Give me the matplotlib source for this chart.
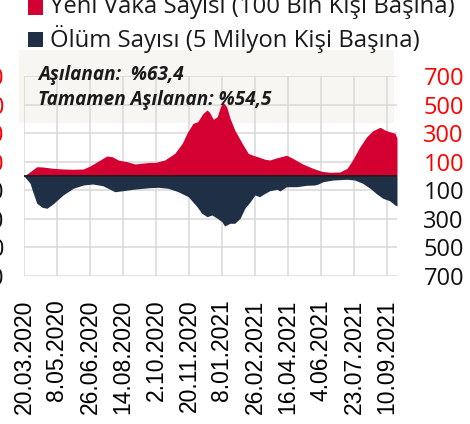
import numpy as np
import pandas as pd
from matplotlib import pyplot as plt
from matplotlib.patches import Rectangle

# tarih ekseni: 20.03.2020'den itibaren gün
start_date = '20.03.2020'
tick_labels = ['20.03.2020', '8.05.2020', '26.06.2020', '14.08.2020', '2.10.2020', '20.11.2020',
               '8.01.2021', '26.02.2021', '16.04.2021', '4.06.2021', '23.07.2021', '10.09.2021']

# yeni vaka sayısı (100 bin kişi başına)
case_days = [0, 9, 19, 28, 43, 58, 73, 88, 98, 113, 123, 131, 140, 153, 165, 175, 187, 195,
             209, 224, 235, 242, 251, 258, 266, 272, 276, 281, 287, 291, 295, 301, 306, 313,
             324, 333, 339, 347, 358, 365, 376, 390, 399, 414, 429, 442, 454, 469, 480, 488,
             499, 509, 518, 529, 536, 543, 551, 554]
case_vals = [0, 30, 65, 63, 54, 49, 47, 49, 70, 112, 140, 135, 112, 100, 84, 90, 95, 95,
             112, 159, 229, 299, 369, 380, 439, 462, 443, 397, 415, 474, 520, 485, 404, 322,
             229, 159, 147, 135, 117, 112, 128, 145, 124, 84, 54, 33, 26, 28, 54, 112,
             205, 275, 317, 341, 322, 310, 299, 264]

# ölüm sayısı (5 milyon kişi başına)
death_days = [0, 9, 13, 19, 27, 34, 43, 58, 73, 88, 102, 117, 135, 147, 162, 177, 187, 199,
              214, 229, 244, 257, 264, 272, 279, 287, 294, 298, 306, 313, 321, 328, 336, 343,
              350, 358, 365, 376, 380, 390, 405, 420, 432, 437, 444, 459, 480, 491, 503, 514,
              524, 533, 543, 551, 554]
death_vals = [0, 51, 110, 191, 219, 226, 196, 133, 86, 63, 56, 68, 110, 103, 93, 86, 82, 79,
              86, 110, 145, 215, 261, 285, 273, 296, 320, 350, 331, 331, 296, 226, 180, 133,
              145, 121, 103, 93, 105, 75, 75, 65, 63, 56, 40, 28, 23, 28, 51, 86,
              126, 156, 173, 203, 210]

y_ticks = [-700, -500, -300, -100, 100, 300, 500, 700]

red = '#d50032'
navy = '#1f3046'

t0 = pd.to_datetime(start_date, format='%d.%m.%Y')
tick_days = [(pd.to_datetime(s, format='%d.%m.%Y') - t0).days for s in tick_labels]

W, H = 470, 424
fig = plt.figure(figsize=(W / 100, H / 100), dpi=100)

# gri bilgi kutusu (verinin arkasında)
fig.patches.append(Rectangle((19 / W, 1 - 123 / H), 375 / W, 73 / H, transform=fig.transFigure,
                             facecolor='#f7f6f2', edgecolor='none', zorder=-5))

ax = fig.add_axes([24 / W, 1 - 276 / H, 373 / W, 200 / H])
ax.set_facecolor('none')
ax.set_xlim(0, 554)
ax.set_ylim(-700, 700)

ax.fill_between(case_days, 0, case_vals, color=red, lw=0, zorder=3)
ax.fill_between(death_days, 0, -np.array(death_vals), color=navy, lw=0, zorder=3)
ax.axhline(0, color='#1a1a1a', lw=1.3, zorder=4)

ax.set_xticks(tick_days)
ax.set_xticklabels(tick_labels, rotation=90, fontsize=16.5, family='Liberation Sans')
ax.set_yticks(y_ticks)
ax.set_yticklabels([str(abs(v)) for v in y_ticks], fontsize=17, family='Open Sans')
ax.tick_params(axis='x', length=0, pad=17)
ax.tick_params(axis='y', length=0, pad=14)
for lab, v in zip(ax.get_yticklabels(), y_ticks):
    lab.set_color('#ff0000' if v > 0 else '#111111')

ax2 = ax.twinx()
ax2.set_ylim(-700, 700)
ax2.set_yticks(y_ticks)
ax2.set_yticklabels([str(abs(v)) for v in y_ticks], fontsize=17, family='Open Sans')
ax2.tick_params(axis='y', length=0, pad=19)
for lab, v in zip(ax2.get_yticklabels(), y_ticks):
    lab.set_color('#ff0000' if v > 0 else '#111111')

ax.grid(True, color='#d8d8d8', lw=1.1)
ax.set_axisbelow(True)
for a in (ax, ax2):
    for s in a.spines.values():
        s.set_visible(False)

fig.text(38 / W, 1 - 75 / H, 'Aşılanan:  %63,4', fontsize=13.7, fontweight='bold', style='italic',
         family='Open Sans', va='center', color='#1a1a1a')
fig.text(38 / W, 1 - 100 / H, 'Tamamen Aşılanan: %54,5', fontsize=13.7, fontweight='bold', style='italic',
         family='Open Sans', va='center', color='#1a1a1a')

# lejant
legend_items = [('Yeni Vaka Sayısı (100 Bin Kişi Başına)', red), ('Ölüm Sayısı (5 Milyon Kişi Başına)', navy)]
for i, (txt, c) in enumerate(legend_items):
    yc = 7 + 32 * i
    fig.patches.append(Rectangle((28 / W, 1 - (yc + 7.5) / H), 15 / W, 15 / H, transform=fig.transFigure,
                                 facecolor=c, edgecolor='none'))
    fig.text(50 / W, 1 - yc / H, txt, fontsize=17.2, family='Open Sans', va='center', color='#1a1a1a')

fig.savefig('out.png', dpi=100)
